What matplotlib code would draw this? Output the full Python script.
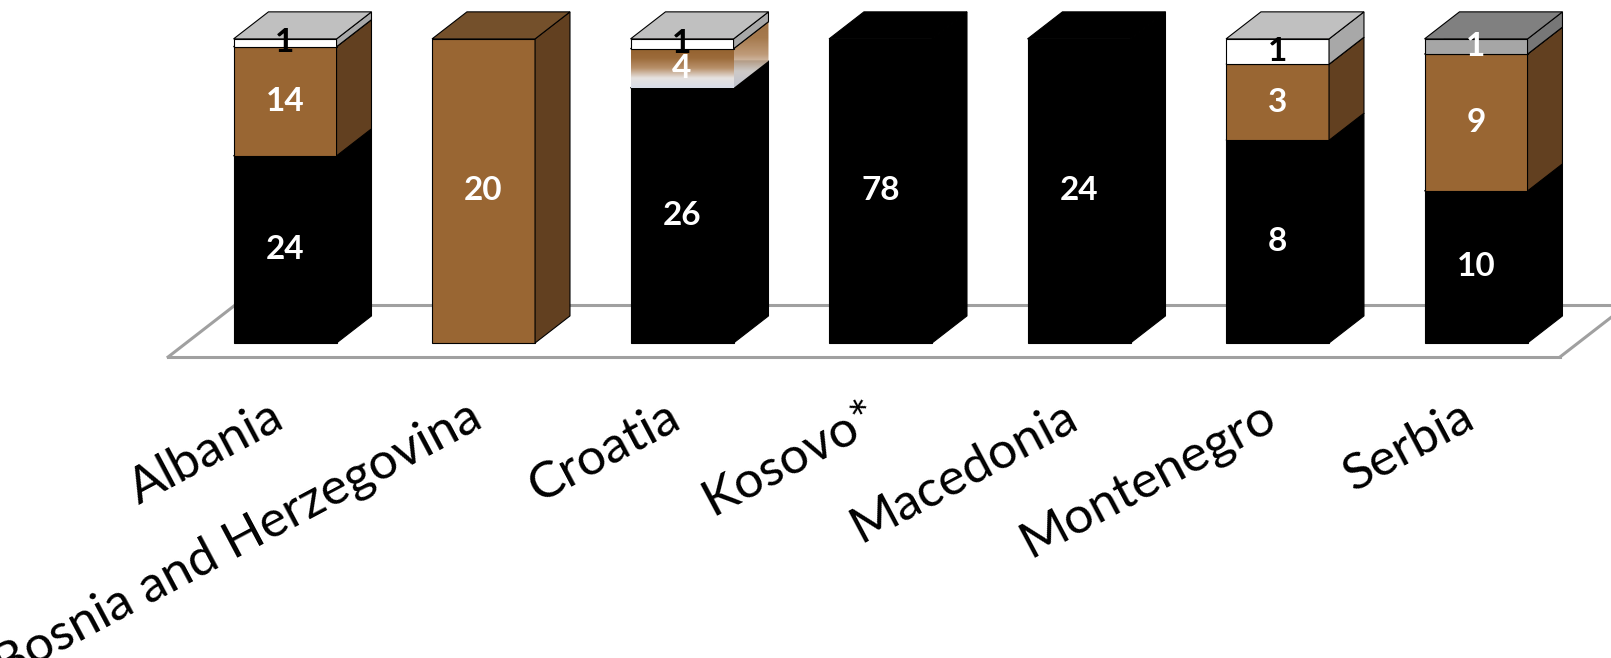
import numpy as np
import matplotlib
matplotlib.use('Agg')
import matplotlib.pyplot as plt
from matplotlib.patches import Polygon
from matplotlib.colors import LinearSegmentedColormap

plt.rcParams['font.family'] = ['Lato', 'DejaVu Sans']

countries = ['Albania', 'Bosnia and Herzegovina', 'Croatia', 'Kosovo*',
             'Macedonia', 'Montenegro', 'Serbia']
black = [24, 0, 26, 78, 24, 8, 10]
brown = [14, 20, 0, 0, 0, 3, 9]
brown_grad = [0, 0, 4, 0, 0, 0, 0]
white = [1, 0, 1, 0, 0, 1, 0]
grey = [0, 0, 0, 0, 0, 0, 1]

# series bottom -> top : values, front, side, top colours, label colour
series = [
    (black, '#000000', '#000000', '#000000', 'white'),
    (brown, '#996633', '#624020', '#74502B', 'white'),
    (brown_grad, None, None, '#9C6B3A', 'white'),
    (white, '#FFFFFF', '#A8A8A8', '#C0C0C0', 'black'),
    (grey, '#A6A6A6', '#777777', '#808080', 'white'),
]

totals = np.sum([s[0] for s in series], axis=0)

fig = plt.figure(figsize=(16.11, 6.58), dpi=100)
ax = fig.add_axes([0, 0, 1, 1])
ax.set_xlim(-1.436, 6.680)
ax.set_ylim(-103.6, 112.8)
ax.axis('off')

w = 0.519      # bar width
dx, dy = 0.176, 8.9   # bar depth
fdx, fdy = 0.338, 17.1  # floor depth

# floor
fl_x0, fl_x1, fl_y = -0.589, 6.423, -4.6
fc = '#A0A0A0'
ax.plot([fl_x0, fl_x1], [fl_y, fl_y], color=fc, lw=2.2, zorder=1)
ax.plot([fl_x0, fl_x0 + fdx], [fl_y, fl_y + fdy], color=fc, lw=2.2, zorder=1)
ax.plot([fl_x0 + fdx, fl_x1 + fdx], [fl_y + fdy, fl_y + fdy], color=fc, lw=2.2, zorder=1)
ax.plot([fl_x1, fl_x1 + fdx], [fl_y, fl_y + fdy], color=fc, lw=2.2, zorder=1)

grad_cmap = LinearSegmentedColormap.from_list(
    'g', ['#D8DCE8', '#E6E2E0', '#B8906A', '#9C6B3A', '#94622F'])
grad = np.linspace(0, 1, 200).reshape(-1, 1)

x = np.arange(len(countries))
for i in range(len(countries)):
    base = 0.0
    z = 2.0
    for vals, front, side, top, lc in series:
        if vals[i] == 0:
            continue
        pct = vals[i] / totals[i] * 100
        y0, y1 = base, base + pct
        xl, xr = x[i] - w / 2, x[i] + w / 2
        if front is None:
            fp = Polygon([(xl, y0), (xr, y0), (xr, y1), (xl, y1)], closed=True,
                         fc='none', ec='none', zorder=z)
            ax.add_patch(fp)
            im = ax.imshow(grad, cmap=grad_cmap, extent=(xl, xr, y0, y1),
                           origin='lower', aspect='auto', zorder=z)
            im.set_clip_path(fp)
            sp = Polygon([(xr, y0), (xr + dx, y0 + dy), (xr + dx, y1 + dy), (xr, y1)],
                         closed=True, fc='none', ec='none', zorder=z)
            ax.add_patch(sp)
            im2 = ax.imshow(grad, cmap=grad_cmap, extent=(xr, xr + dx, y0, y1 + dy),
                            origin='lower', aspect='auto', zorder=z, alpha=0.9)
            im2.set_clip_path(sp)
        else:
            ax.bar(x[i], pct, width=w, bottom=y0, color=front,
                   edgecolor='#000000', linewidth=0.8, zorder=z)
            ax.add_patch(Polygon([(xr, y0), (xr + dx, y0 + dy), (xr + dx, y1 + dy), (xr, y1)],
                                 closed=True, fc=side, ec='#000000', lw=0.8, zorder=z))
        ax.add_patch(Polygon([(xl, y1), (xl + dx, y1 + dy), (xr + dx, y1 + dy), (xr, y1)],
                             closed=True, fc=top, ec='#000000', lw=0.8, zorder=z + 0.5))
        ax.text(x[i], (y0 + y1) / 2, str(vals[i]), color=lc, fontsize=24,
                fontweight='bold', ha='center', va='center', zorder=20)
        base = y1
        z += 1

# category labels
for i, name in enumerate(countries):
    ax.text(x[i] - 0.08, -16.5, name, fontsize=37, rotation=28,
            rotation_mode='anchor', ha='right', va='top', color='black', zorder=5)

fig.savefig('out.png', dpi=100)
